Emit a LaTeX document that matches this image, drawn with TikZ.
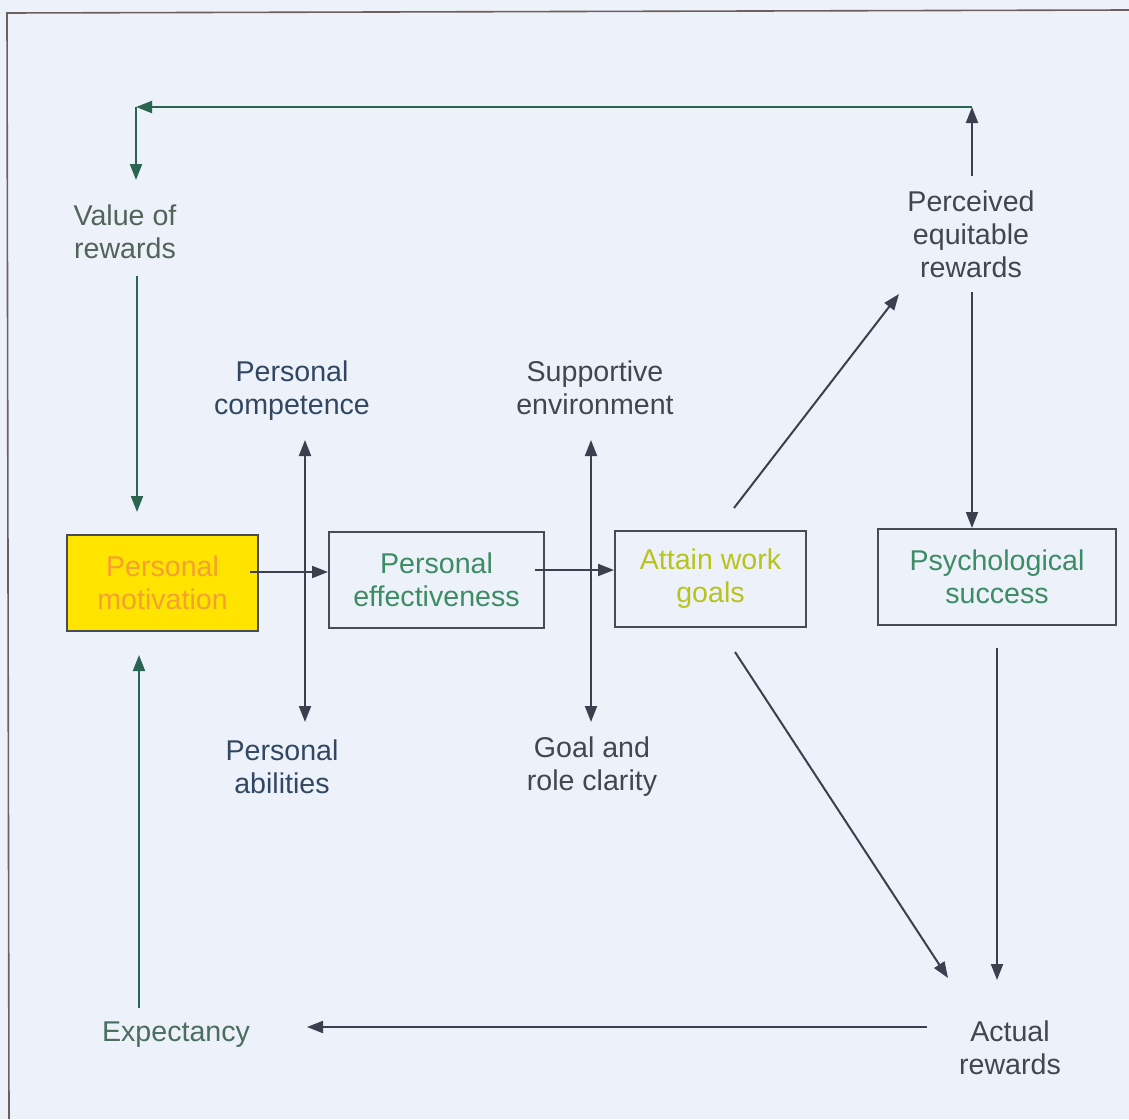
\documentclass[tikz,border=0pt]{standalone}
\usepackage{fontspec}
\setmainfont{Liberation Sans}
\usetikzlibrary{arrows.meta}

\definecolor{bg}{RGB}{237,241,250}
\definecolor{framec}{RGB}{110,95,95}
\definecolor{boxline}{RGB}{72,76,86}
\definecolor{darkline}{RGB}{60,64,78}
\definecolor{greenline}{RGB}{44,100,82}
\definecolor{motivfill}{RGB}{255,228,0}
\definecolor{motivtext}{RGB}{245,160,50}
\definecolor{effgreen}{RGB}{60,140,100}
\definecolor{attainc}{RGB}{185,195,30}
\definecolor{valuec}{RGB}{82,100,90}
\definecolor{expc}{RGB}{75,110,95}
\definecolor{bluec}{RGB}{50,72,98}
\definecolor{grayc}{RGB}{66,70,78}

\tikzset{
  lbl/.style={align=center, inner sep=0pt, font=\fontsize{28.6}{33}\selectfont},
  stagebox/.style={lbl, draw=boxline, line width=2pt, minimum height=96pt},
  tipshape/.style={-{Triangle[length=16pt,width=12pt]}},
  darr/.style={tipshape, draw=darkline, line width=2pt},
  garr/.style={tipshape, draw=greenline, line width=2pt},
  biarr/.style={{Triangle[length=16pt,width=12pt]}-{Triangle[length=16pt,width=12pt]}, draw=darkline, line width=2pt},
}

\begin{document}
\begin{tikzpicture}[x=1pt,y=-1pt]
\useasboundingbox (0,0) rectangle (1129,1119);
\fill[bg] (0,0) rectangle (1129,1119);
\draw[framec, line width=1.6pt] (1129,10) -- (7,13) -- (9,1119);

% stages
\node[stagebox, fill=motivfill, text=motivtext, minimum width=191pt] (motiv) at (162.5,582.5) {Personal\\motivation};
\node[stagebox, text=effgreen, minimum width=215pt] (eff) at (436.5,580) {Personal\\effectiveness};
\node[stagebox, text=attainc, minimum width=191pt] (attain) at (710.5,579) {Attain work\\goals};
\node[stagebox, text=effgreen, minimum width=238pt] (psych) at (997,577) {Psychological\\success};

% labels
\node[lbl, text=valuec] (value) at (125,232) {Value of\\rewards};
\node[lbl, text=bluec] (comp) at (292,391) {Personal\\competence};
\node[lbl, text=bluec] (abil) at (282,767) {Personal\\abilities};
\node[lbl, text=grayc] (supp) at (595,388) {Supportive\\environment};
\node[lbl, text=grayc] (clar) at (592,767) {Goal and\\role clarity};
\node[lbl, text=grayc] (perc) at (971,234) {Perceived\\equitable\\rewards};
\node[lbl, text=grayc] (actual) at (1010,1048) {Actual\\rewards};
\node[lbl, text=expc] (expect) at (176,1035) {Expectancy};

% connector end points
\coordinate (percTop) at (972,176);
\coordinate (loopR) at (972,107);
\coordinate (loopL) at (136,107);
\coordinate (valueIn) at (136,180);
\coordinate (valueOut) at (137,276);
\coordinate (motivTop) at (137,512);
\coordinate (compEnd) at (305,440);
\coordinate (abilEnd) at (305,722);
\coordinate (suppEnd) at (591,440);
\coordinate (clarEnd) at (591,722);
\coordinate (attainUp) at (734,508);
\coordinate (percIn) at (899,294);
\coordinate (percOut) at (972,292);
\coordinate (attainDown) at (735,652);
\coordinate (actualIn) at (948,978);
\coordinate (psychOut) at (997,648);
\coordinate (actualTop) at (997,980);
\coordinate (actualOut) at (927,1027);
\coordinate (expectIn) at (307,1027);
\coordinate (expectOut) at (139,1008);
\coordinate (motivBot) at (139,655);
\coordinate (motivOut) at (250,572);
\coordinate (effOut) at (535,570);

% feedback loop across the top
\draw[darr] (percTop) -- (loopR);
\draw[garr] (loopR) -- (loopL);
\draw[garr] (loopL) -- (valueIn);
\draw[garr] (valueOut) -- (motivTop);

% main chain
\draw[biarr] (compEnd) -- (abilEnd);
\draw[biarr] (suppEnd) -- (clarEnd);
\draw[darr] (motivOut) -- (motivOut -| eff.west);
\draw[darr] (effOut) -- (effOut -| attain.west);

% rewards
\draw[darr] (attainUp) -- (percIn);
\draw[darr] (percOut) -- (psych.north -| percOut);
\draw[darr] (attainDown) -- (actualIn);
\draw[darr] (psychOut) -- (actualTop);
\draw[darr] (actualOut) -- (expectIn);
\draw[garr] (expectOut) -- (motivBot);
\end{tikzpicture}
\end{document}
